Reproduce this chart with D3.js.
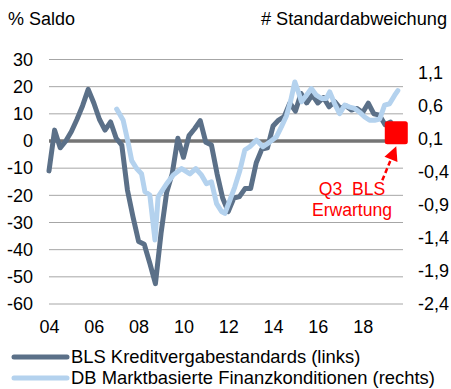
<!DOCTYPE html>
<html>
<head>
<meta charset="utf-8">
<script src="https://cdn.jsdelivr.net/npm/d3@7"></script>
<style>
  html, body { margin: 0; padding: 0; background: #ffffff; }
  svg { display: block; font-family: "Liberation Sans", Arial, sans-serif; }
</style>
</head>
<body>
<svg id="chart" width="451" height="389"></svg>
<script>
// BLS credit standards, quarterly from 2004 Q1 (net balance, %)
const blsStart = 2004;
const blsValues = [
  -11, 4, -2.5, 0,
  3.5, 8, 13, 19,
  14, 8, 4, 7,
  1, -1.5, -18, -28,
  -37, -38, -45, -52.5,
  -34, -19, -12, 1,
  -6, 2, 4.5, 7.5,
  -0.5, -1.5, -12, -21,
  -26, -21, -20.5, -17.5,
  -17.5, -8, -3, -2.5,
  5.5, 7.7, 9, 14,
  11, 17.5, 14, 17,
  14, 16, 12.6, 14.5,
  12, 13, 11.4, 12,
  10.5, 13.9, 10, 9.5,
  6, 7
];
// Expected value for 2019 Q3
const blsExpectDate = 2019.5;
const blsExpectValue = 3;

// DB market-based financing conditions (standard deviations)
const dbDates = [
  2007.02, 2007.31, 2007.54, 2007.69, 2007.91, 2008.13, 2008.28, 2008.50, 2008.73, 2008.87,
  2009.25, 2009.54, 2009.92, 2010.29, 2010.55, 2010.81, 2011.03, 2011.25, 2011.48, 2011.70,
  2011.85, 2012.07, 2012.29, 2012.52, 2012.74, 2012.96, 2013.26, 2013.55, 2013.85, 2014.15,
  2014.37, 2014.60, 2014.79, 2014.97, 2015.11, 2015.27, 2015.49, 2015.71, 2015.93, 2016.16,
  2016.38, 2016.53, 2016.75, 2016.97, 2017.20, 2017.42, 2017.64, 2017.87, 2018.09, 2018.31,
  2018.53, 2018.76, 2018.98, 2019.20, 2019.43, 2019.57
];
const dbValues = [
  0.55, 0.38, 0.03, -0.23, -0.35, -0.43, -0.70, -0.75, -1.43, -0.78,
  -0.58, -0.45, -0.35, -0.43, -0.35, -0.45, -0.58, -0.55, -0.88, -1.00,
  -1.03, -0.83, -0.63, -0.38, -0.07, -0.02, 0.08, -0.02, 0.05, 0.13,
  0.28, 0.45, 0.68, 0.96, 0.83, 0.66, 0.76, 0.86, 0.76, 0.71,
  0.71, 0.81, 0.63, 0.48, 0.61, 0.58, 0.56, 0.50, 0.43, 0.38,
  0.38, 0.40, 0.61, 0.63, 0.76, 0.83
];

// Axis ticks and labels
const leftTicks = [30, 20, 10, 0, -10, -20, -30, -40, -50, -60];
const rightTicks = [1.1, 0.6, 0.1, -0.4, -0.9, -1.4, -1.9, -2.4];
const xTickYears = [2004, 2006, 2008, 2010, 2012, 2014, 2016, 2018];
const xTickLabels = ["04", "06", "08", "10", "12", "14", "16", "18"];

const seriesNames = ["BLS Kreditvergabestandards (links)", "DB Marktbasierte Finanzkonditionen (rechts)"];
const leftTitle = "% Saldo";
const rightTitle = "# Standardabweichung";
const noteLines = ["Q3  BLS", "Erwartung"];

const darkColor = "#5b7088";
const lightColor = "#b4d2ee";
const red = "#ff0000";

const svg = d3.select("#chart");

const x = d3.scaleLinear().domain([2004, 2019.8]).range([49, 403]);
const yL = d3.scaleLinear().domain([-60, 30]).range([304, 59.5]);
const yR = d3.scaleLinear().domain([-2.4, 1.3]).range([304, 59.5]);

// gridlines
svg.append("g").selectAll("line").data(leftTicks.filter(d => d !== 0)).join("line")
  .attr("x1", x.range()[0]).attr("x2", x.range()[1])
  .attr("y1", d => yL(d)).attr("y2", d => yL(d))
  .attr("stroke", "#a6a6a6").attr("stroke-width", 1);

// zero line
svg.append("line")
  .attr("x1", x.range()[0]).attr("x2", x.range()[1])
  .attr("y1", yL(0)).attr("y2", yL(0))
  .attr("stroke", "#757575").attr("stroke-width", 3.5);

// axes (plain hyphen as minus sign, comma as decimal mark)
const fmtInt = d => String(d);
const fmtComma = d => d.toFixed(1).replace(".", ",");
const axL = svg.append("g").attr("transform", `translate(${x.range()[0]},0)`)
  .call(d3.axisLeft(yL).tickValues(leftTicks).tickSize(0).tickPadding(16).tickFormat(fmtInt));
const axR = svg.append("g").attr("transform", `translate(${x.range()[1]},0)`)
  .call(d3.axisRight(yR).tickValues(rightTicks).tickSize(0).tickPadding(15).tickFormat(fmtComma));
const axX = svg.append("g").attr("transform", `translate(0,304)`)
  .call(d3.axisBottom(x).tickValues(xTickYears).tickSize(0).tickPadding(16)
    .tickFormat((d, i) => xTickLabels[i]));
[axL, axR, axX].forEach(g => {
  g.select(".domain").remove();
  g.selectAll("text").attr("fill", "#000").style("font-size", "18px")
    .style("font-family", '"Liberation Sans", Arial, sans-serif');
});

// series
const blsData = blsValues.map((v, i) => ({ t: blsStart + i * 0.25, v }));
const dbData = dbDates.map((t, i) => ({ t, v: dbValues[i] }));

svg.append("path").datum(blsData)
  .attr("fill", "none").attr("stroke", darkColor).attr("stroke-width", 5)
  .attr("stroke-linejoin", "round").attr("stroke-linecap", "round")
  .attr("d", d3.line().x(d => x(d.t)).y(d => yL(d.v)));

svg.append("path").datum(dbData)
  .attr("fill", "none").attr("stroke", lightColor).attr("stroke-width", 5)
  .attr("stroke-linejoin", "round").attr("stroke-linecap", "round")
  .attr("d", d3.line().x(d => x(d.t)).y(d => yR(d.v)));

// expected value marker
const sq = 23;
svg.append("rect")
  .attr("x", x(blsExpectDate) - sq / 2).attr("y", yL(blsExpectValue) - sq / 2)
  .attr("width", sq).attr("height", sq).attr("rx", 2.5)
  .attr("fill", red);

// annotation arrow
const tipX = x(blsExpectDate), tipY = yL(blsExpectValue) + sq / 2 + 2;
const tailX = tipX - 14, tailY = tipY + 34;
const ang = Math.atan2(tipY - tailY, tipX - tailX);
const headLen = 14, headW = 7;
const bx = tipX - headLen * Math.cos(ang), by = tipY - headLen * Math.sin(ang);
svg.append("line")
  .attr("x1", tailX).attr("y1", tailY).attr("x2", bx).attr("y2", by)
  .attr("stroke", red).attr("stroke-width", 2.5).attr("stroke-dasharray", "5,3");
svg.append("path")
  .attr("d", `M${tipX},${tipY} L${bx + headW * Math.sin(ang)},${by - headW * Math.cos(ang)} L${bx - headW * Math.sin(ang)},${by + headW * Math.cos(ang)} Z`)
  .attr("fill", red);

svg.append("g").selectAll("text").data(noteLines).join("text")
  .attr("x", 352).attr("y", (d, i) => 195 + i * 21)
  .attr("text-anchor", "middle").attr("fill", red)
  .style("white-space", "pre")
  .style("font-size", "17.6px").text(d => d);

// titles
svg.append("text").attr("x", 8).attr("y", 25).style("font-size", "18px").text(leftTitle);
svg.append("text").attr("x", 447).attr("y", 25).attr("text-anchor", "end").style("font-size", "18.2px").text(rightTitle);

// legend
const legend = svg.append("g").selectAll("g").data(seriesNames).join("g")
  .attr("transform", (d, i) => `translate(0,${357 + i * 21})`);
legend.append("line").attr("x1", 14).attr("x2", 67).attr("y1", 0).attr("y2", 0)
  .attr("stroke", (d, i) => i === 0 ? darkColor : lightColor)
  .attr("stroke-width", 5).attr("stroke-linecap", "round");
legend.append("text").attr("x", 71).attr("y", 0).attr("dy", "0.35em")
  .style("font-size", "18.4px").text(d => d);
</script>
</body>
</html>
